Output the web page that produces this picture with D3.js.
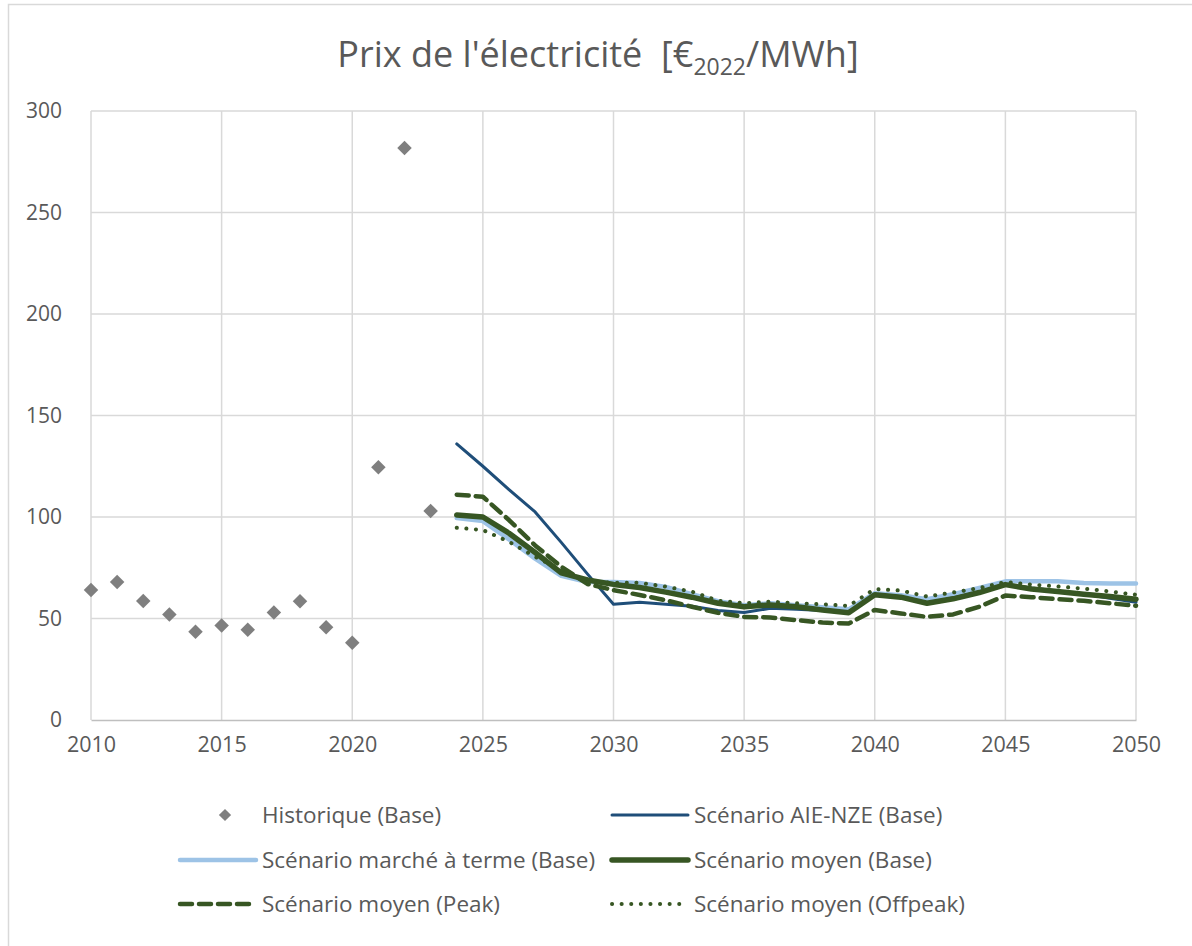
<!DOCTYPE html>
<html>
<head>
<meta charset="utf-8">
<script src="https://cdn.jsdelivr.net/npm/d3@7"></script>
<style>
  body { margin: 0; background: #fff; }
  text { font-family: "Open Sans", sans-serif; fill: #595959; }
</style>
</head>
<body>
<script>
// Historic prices (base), 2010-2023
var histYears = [2010, 2011, 2012, 2013, 2014, 2015, 2016, 2017, 2018, 2019, 2020, 2021, 2022, 2023];
var histValues = [64, 68, 58.6, 52, 43.5, 46.6, 44.5, 53, 58.5, 45.7, 38, 124.5, 281.8, 103];

// Scenario years 2024-2050
var scenYears = d3.range(2024, 2051);
var aieNze = [136, 125, 113.5, 102.5, 87.5, 72, 57, 58, 57, 56, 54, 53, 55, 54.5, 54, 53, 62.5, 61, 59, 61, 63.5, 67, 65, 63.5, 62, 60, 58];
var marcheTerme = [99.5, 98, 89, 79.5, 71, 68, 68, 67.5, 65.5, 62, 58.5, 56.5, 57.5, 56.5, 55.5, 54.5, 62.5, 61.5, 59.5, 62, 65, 68.3, 68.3, 68.3, 67.5, 67.2, 67.2];
var moyenBase = [101, 100, 92, 82.5, 72.5, 69, 66.8, 65.3, 63, 60.5, 57.5, 55.8, 56.7, 55.8, 54.2, 52.8, 61.7, 60.5, 57.5, 59.7, 62.8, 66.7, 64.5, 63.3, 62, 60.8, 59.5];
var moyenPeak = [111, 110, 98.5, 86, 75.5, 67, 64, 61.6, 59, 55.8, 52.8, 50.8, 50.5, 49.2, 48, 47.5, 54.2, 52.5, 50.8, 52, 55.8, 61.3, 60.5, 59.5, 58.7, 57.5, 56.3];
var moyenOffpeak = [94.7, 93.6, 87.8, 80.4, 74, 68, 67.6, 67.6, 65.7, 63.2, 58.8, 57.5, 58.3, 57.5, 57, 56.2, 64.5, 63.8, 60.8, 62.8, 65, 68, 66.7, 65.8, 64.7, 63.3, 61.7];

var xTicks = [2010, 2015, 2020, 2025, 2030, 2035, 2040, 2045, 2050];
var yTicks = [0, 50, 100, 150, 200, 250, 300];

// Series styles
var series = [
    { name: "Scénario AIE-NZE (Base)", values: aieNze, color: "#1f4e79", width: 3, dash: null },
    { name: "Scénario marché à terme (Base)", values: marcheTerme, color: "#9dc3e6", width: 4.5, dash: null },
    { name: "Scénario moyen (Base)", values: moyenBase, color: "#375623", width: 5.5, dash: null },
    { name: "Scénario moyen (Peak)", values: moyenPeak, color: "#375623", width: 4.5, dash: "12,7" },
    { name: "Scénario moyen (Offpeak)", values: moyenOffpeak, color: "#375623", width: 4, dash: "0.1,9.5" }
];

var margin = { top: 111, right: 56, bottom: 226, left: 91 },
    width = 1192 - margin.left - margin.right,
    height = 946 - margin.top - margin.bottom;

var root = d3.select("body").append("svg")
    .attr("width", 1192)
    .attr("height", 946);

// chart frame
root.append("rect")
    .attr("x", 8.5).attr("y", 4.5)
    .attr("width", 1250).attr("height", 1000)
    .attr("fill", "none")
    .attr("stroke", "#d9d9d9")
    .attr("stroke-width", 1.5);

var svg = root.append("g")
    .attr("transform", "translate(" + margin.left + "," + margin.top + ")");

var x = d3.scaleLinear().domain([2010, 2050]).range([0, width]);
var y = d3.scaleLinear().domain([0, 300]).range([height, 0]);

// Gridlines
svg.append("g").selectAll("line")
    .data(yTicks.slice(1))
    .enter().append("line")
    .attr("x1", 0).attr("x2", width)
    .attr("y1", function (d) { return y(d); })
    .attr("y2", function (d) { return y(d); })
    .attr("stroke", "#d9d9d9").attr("stroke-width", 1.5);

svg.append("g").selectAll("line")
    .data(xTicks)
    .enter().append("line")
    .attr("x1", function (d) { return x(d); })
    .attr("x2", function (d) { return x(d); })
    .attr("y1", 0).attr("y2", height)
    .attr("stroke", "#d9d9d9").attr("stroke-width", 1.5);

// Axes
var xAxis = svg.append("g")
    .attr("transform", "translate(0," + height + ")")
    .call(d3.axisBottom(x).tickValues(xTicks).tickFormat(d3.format("d")).tickSize(0).tickPadding(17));
xAxis.select(".domain").attr("stroke", "#bfbfbf").attr("stroke-width", 1.5);
xAxis.selectAll("text").style("font-size", "21.5px").style("font-family", "Open Sans").attr("fill", "#595959");

var yAxis = svg.append("g")
    .call(d3.axisLeft(y).tickValues(yTicks).tickSize(0).tickPadding(29));
yAxis.select(".domain").remove();
yAxis.selectAll("text").style("font-size", "21px").style("font-family", "Open Sans").attr("fill", "#595959");

// Historic diamonds
var diamond = d3.symbol().type(d3.symbolSquare).size(105);
svg.selectAll(".hist")
    .data(histYears)
    .enter().append("path")
    .attr("class", "hist")
    .attr("d", diamond)
    .attr("transform", function (d, i) { return "translate(" + x(d) + "," + y(histValues[i]) + ") rotate(45)"; })
    .attr("fill", "#7f7f7f");

// Scenario lines
var line = d3.line()
    .x(function (d, i) { return x(scenYears[i]); })
    .y(function (d) { return y(d); });

series.forEach(function (s) {
    svg.append("path")
        .datum(s.values)
        .attr("d", line)
        .attr("fill", "none")
        .attr("stroke", s.color)
        .attr("stroke-width", s.width)
        .attr("stroke-linecap", "round")
        .attr("stroke-linejoin", "round")
        .attr("stroke-dasharray", s.dash);
});

// Title
var title = root.append("text")
    .attr("x", 598)
    .attr("y", 67)
    .attr("text-anchor", "middle")
    .style("font-size", "36px");
title.append("tspan").text("Prix de l'électricité\u00a0 [€");
title.append("tspan").attr("dy", 8).style("font-size", "23px").text("2022");
title.append("tspan").attr("dy", -8).text("/MWh]");

// Legend
var legendItems = [
    { name: "Historique (Base)", marker: true, col: 0, row: 0 },
    { name: series[0].name, s: series[0], col: 1, row: 0 },
    { name: series[1].name, s: series[1], col: 0, row: 1 },
    { name: series[2].name, s: series[2], col: 1, row: 1 },
    { name: series[3].name, s: series[3], col: 0, row: 2 },
    { name: series[4].name, s: series[4], col: 1, row: 2 }
];
var colX = [178, 610], rowY = [815, 860, 904];

var legend = root.append("g");
legendItems.forEach(function (d) {
    var lx = colX[d.col], ly = rowY[d.row];
    if (d.marker) {
        legend.append("path")
            .attr("d", d3.symbol().type(d3.symbolSquare).size(75))
            .attr("transform", "translate(" + (lx + 47) + "," + ly + ") rotate(45)")
            .attr("fill", "#7f7f7f");
    } else {
        legend.append("line")
            .attr("x1", lx + 2).attr("x2", lx + 78)
            .attr("y1", ly).attr("y2", ly)
            .attr("stroke", d.s.color)
            .attr("stroke-width", d.s.width)
            .attr("stroke-linecap", "round")
            .attr("stroke-dasharray", d.s.dash);
    }
    legend.append("text")
        .attr("x", lx + 84)
        .attr("y", ly)
        .attr("dy", "0.35em")
        .style("font-size", "22.5px")
        .text(d.name);
});
</script>
</body>
</html>
